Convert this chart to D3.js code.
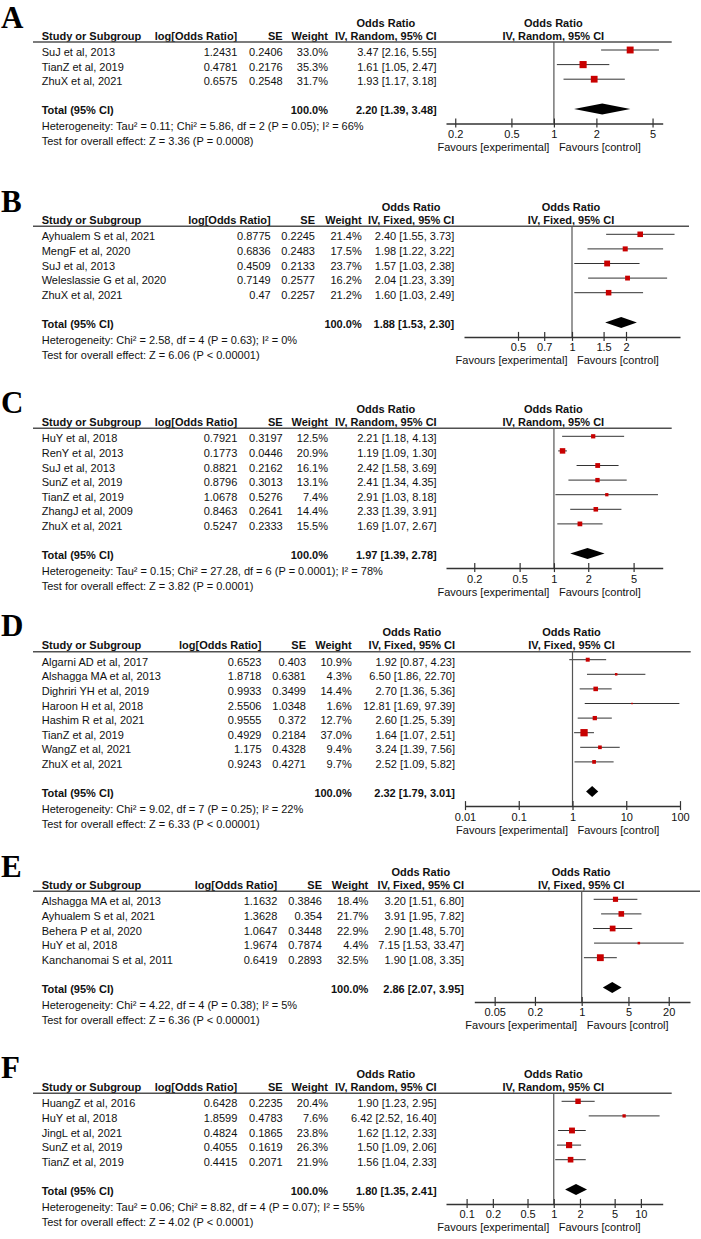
<!DOCTYPE html>
<html><head><meta charset="utf-8">
<script src="https://cdn.jsdelivr.net/npm/d3@7"></script>
<style>
html,body{margin:0;padding:0;background:#fff;}
svg{display:block;}
text{font-family:"Liberation Sans",Arial,sans-serif;font-size:11px;fill:#111;}
text.b{font-weight:bold;}
text.lbl{font-family:"Liberation Serif","Times New Roman",serif;font-size:31px;font-weight:bold;fill:#000;}
</style></head><body>
<svg id="c" width="701" height="1239"></svg>
<script>
// ---------- Panel A ----------
const studiesA = ["SuJ et al, 2013","TianZ et al, 2019","ZhuX et al, 2021"];
const logOrA = [1.2431,0.4781,0.6575];
const seA = [0.2406,0.2176,0.2548];
const weightA = [33.0,35.3,31.7];
const orA = [3.47,1.61,1.93];
const loA = [2.16,1.05,1.17];
const hiA = [5.55,2.47,3.18];
const totalA = [2.20,1.39,3.48];
const hetA = "Heterogeneity: Tau\u00B2 = 0.11; Chi\u00B2 = 5.86, df = 2 (P = 0.05); I\u00B2 = 66%";
const testA = "Test for overall effect: Z = 3.36 (P = 0.0008)";
const ticksA = [0.2,0.5,1,2,5];
const domainA = [0.172,5.9];
// ---------- Panel B ----------
const studiesB = ["Ayhualem S et al, 2021","MengF et al, 2020","SuJ et al, 2013","Weleslassie G et al, 2020","ZhuX et al, 2021"];
const logOrB = [0.8775,0.6836,0.4509,0.7149,0.47];
const seB = [0.2245,0.2483,0.2133,0.2577,0.2257];
const weightB = [21.4,17.5,23.7,16.2,21.2];
const orB = [2.40,1.98,1.57,2.04,1.60];
const loB = [1.55,1.22,1.03,1.23,1.03];
const hiB = [3.73,3.22,2.38,3.39,2.49];
const totalB = [1.88,1.53,2.30];
const hetB = "Heterogeneity: Chi\u00B2 = 2.58, df = 4 (P = 0.63); I\u00B2 = 0%";
const testB = "Test for overall effect: Z = 6.06 (P < 0.00001)";
const ticksB = [0.5,0.7,1,1.5,2];
const domainB = [0.25,4];
// ---------- Panel C ----------
const studiesC = ["HuY et al, 2018","RenY et al, 2013","SuJ et al, 2013","SunZ et al, 2019","TianZ et al, 2019","ZhangJ et al, 2009","ZhuX et al, 2021"];
const logOrC = [0.7921,0.1773,0.8821,0.8796,1.0678,0.8463,0.5247];
const seC = [0.3197,0.0446,0.2162,0.3013,0.5276,0.2641,0.2333];
const weightC = [12.5,20.9,16.1,13.1,7.4,14.4,15.5];
const orC = [2.21,1.19,2.42,2.41,2.91,2.33,1.69];
const loC = [1.18,1.09,1.58,1.34,1.03,1.39,1.07];
const hiC = [4.13,1.30,3.69,4.35,8.18,3.91,2.67];
const totalC = [1.97,1.39,2.78];
const hetC = "Heterogeneity: Tau\u00B2 = 0.15; Chi\u00B2 = 27.28, df = 6 (P = 0.0001); I\u00B2 = 78%";
const testC = "Test for overall effect: Z = 3.82 (P = 0.0001)";
const ticksC = [0.2,0.5,1,2,5];
const domainC = [0.113,9];
// ---------- Panel D ----------
const studiesD = ["Algarni AD et al, 2017","Alshagga MA et al, 2013","Dighriri YH et al, 2019","Haroon H et al, 2018","Hashim R et al, 2021","TianZ et al, 2019","WangZ et al, 2021","ZhuX et al, 2021"];
const logOrD = [0.6523,1.8718,0.9933,2.5506,0.9555,0.4929,1.175,0.9243];
const seD = [0.403,0.6381,0.3499,1.0348,0.372,0.2184,0.4328,0.4271];
const weightD = [10.9,4.3,14.4,1.6,12.7,37.0,9.4,9.7];
const orD = [1.92,6.50,2.70,12.81,2.60,1.64,3.24,2.52];
const loD = [0.87,1.86,1.36,1.69,1.25,1.07,1.39,1.09];
const hiD = [4.23,22.70,5.36,97.39,5.39,2.51,7.56,5.82];
const totalD = [2.32,1.79,3.01];
const hetD = "Heterogeneity: Chi\u00B2 = 9.02, df = 7 (P = 0.25); I\u00B2 = 22%";
const testD = "Test for overall effect: Z = 6.33 (P < 0.00001)";
const ticksD = [0.01,0.1,1,10,100];
const domainD = [0.01,100];
// ---------- Panel E ----------
const studiesE = ["Alshagga MA et al, 2013","Ayhualem S et al, 2021","Behera P et al, 2020","HuY et al, 2018","Kanchanomai S et al, 2011"];
const logOrE = [1.1632,1.3628,1.0647,1.9674,0.6419];
const seE = [0.3846,0.354,0.3448,0.7874,0.2893];
const weightE = [18.4,21.7,22.9,4.4,32.5];
const orE = [3.20,3.91,2.90,7.15,1.90];
const loE = [1.51,1.95,1.48,1.53,1.08];
const hiE = [6.80,7.82,5.70,33.47,3.35];
const totalE = [2.86,2.07,3.95];
const hetE = "Heterogeneity: Chi\u00B2 = 4.22, df = 4 (P = 0.38); I\u00B2 = 5%";
const testE = "Test for overall effect: Z = 6.36 (P < 0.00001)";
const ticksE = [0.05,0.2,1,5,20];
const domainE = [0.0248,41.6];
// ---------- Panel F ----------
const studiesF = ["HuangZ et al, 2016","HuY et al, 2018","JingL et al, 2021","SunZ et al, 2019","TianZ et al, 2019"];
const logOrF = [0.6428,1.8599,0.4824,0.4055,0.4415];
const seF = [0.2235,0.4783,0.1865,0.1619,0.2071];
const weightF = [20.4,7.6,23.8,26.3,21.9];
const orF = [1.90,6.42,1.62,1.50,1.56];
const loF = [1.23,2.52,1.12,1.09,1.04];
const hiF = [2.95,16.40,2.33,2.06,2.33];
const totalF = [1.80,1.35,2.41];
const hetF = "Heterogeneity: Tau\u00B2 = 0.06; Chi\u00B2 = 8.82, df = 4 (P = 0.07); I\u00B2 = 55%";
const testF = "Test for overall effect: Z = 4.02 (P < 0.0001)";
const ticksF = [0.1,0.2,0.5,1,2,5,10];
const domainF = [0.058,17.8];

const panelKeys = ["A","B","C","D","E","F"];
const methods = ["Random","Fixed","Random","Fixed","Fixed","Random"];

const panels = [
  {studies:studiesA,logOr:logOrA,se:seA,weight:weightA,or:orA,lo:loA,hi:hiA,total:totalA,het:hetA,test:testA,ticks:ticksA,domain:domainA},
  {studies:studiesB,logOr:logOrB,se:seB,weight:weightB,or:orB,lo:loB,hi:hiB,total:totalB,het:hetB,test:testB,ticks:ticksB,domain:domainB},
  {studies:studiesC,logOr:logOrC,se:seC,weight:weightC,or:orC,lo:loC,hi:hiC,total:totalC,het:hetC,test:testC,ticks:ticksC,domain:domainC},
  {studies:studiesD,logOr:logOrD,se:seD,weight:weightD,or:orD,lo:loD,hi:hiD,total:totalD,het:hetD,test:testD,ticks:ticksD,domain:domainD},
  {studies:studiesE,logOr:logOrE,se:seE,weight:weightE,or:orE,lo:loE,hi:hiE,total:totalE,het:hetE,test:testE,ticks:ticksE,domain:domainE},
  {studies:studiesF,logOr:logOrF,se:seF,weight:weightF,or:orF,lo:loF,hi:hiF,total:totalF,het:hetF,test:testF,ticks:ticksF,domain:domainF}
];

// ---------- layout (positions only) ----------
const layout = [
  {L:42,    labelY:28,   cLog:237.3, cSE:282.7, cW:328,   cCI:436.7, x0:446,   x1:662.7, lineEnd:671.7},
  {L:226.3, labelY:211.7,cLog:270.7, cSE:315,   cW:361.7, cCI:454.3, x0:464,   x1:680,   lineEnd:689},
  {L:428.3, labelY:413,  cLog:237.3, cSE:282.7, cW:328,   cCI:436.7, x0:446,   x1:662.7, lineEnd:671.7},
  {L:651.7, labelY:636,  cLog:261.5, cSE:306,   cW:351.7, cCI:455,   x0:465,   x1:680,   lineEnd:690.7},
  {L:891.3, labelY:877,  cLog:277.3, cSE:322,   cW:368.3, cCI:464,   x0:474.3, x1:690,   lineEnd:700},
  {L:1093.3,labelY:1078, cLog:237.3, cSE:282.7, cW:328,   cCI:436.7, x0:446,   x1:662.7, lineEnd:671.7}
];

const svg = d3.select("#c");
const side = d3.scaleSqrt().domain([0,100]).range([0,12]);
const f2 = d3.format(".2f"), f1 = d3.format(".1f");
const xStudy = 41.7;

panels.forEach((p,k)=>{
  const lay = layout[k];
  const g = svg.append("g");
  const x = d3.scaleLog().domain(p.domain).range([lay.x0, lay.x1]);
  const n = p.studies.length;
  const rowY = i => lay.L + 14 + 14.6*i;
  const totY = rowY(n+1);
  const axY = totY + 9;
  const xc = (lay.x0 + lay.x1)/2 - 1;
  const ciLabel = "IV, " + methods[k] + ", 95% CI";

  g.append("text").attr("class","lbl").attr("x",1).attr("y",lay.labelY).text(panelKeys[k]);

  // header
  const hy = lay.L - 2.5, hy2 = lay.L - 15.5;
  g.append("text").attr("class","b").attr("x",xStudy).attr("y",hy).text("Study or Subgroup");
  g.append("text").attr("class","b").attr("x",lay.cLog).attr("y",hy).attr("text-anchor","end").text("log[Odds Ratio]");
  g.append("text").attr("class","b").attr("x",lay.cSE).attr("y",hy).attr("text-anchor","end").text("SE");
  g.append("text").attr("class","b").attr("x",lay.cW).attr("y",hy).attr("text-anchor","end").text("Weight");
  const ciH = g.append("text").attr("class","b").attr("x",lay.cCI).attr("y",hy).attr("text-anchor","end").text(ciLabel);
  const wCI = ciH.node().getComputedTextLength();
  g.append("text").attr("class","b").attr("x",lay.cCI - wCI/2).attr("y",hy2).attr("text-anchor","middle").text("Odds Ratio");
  g.append("text").attr("class","b").attr("x",xc).attr("y",hy).attr("text-anchor","middle").text(ciLabel);
  g.append("text").attr("class","b").attr("x",xc).attr("y",hy2).attr("text-anchor","middle").text("Odds Ratio");

  g.append("line").attr("x1",33).attr("x2",lay.lineEnd).attr("y1",lay.L).attr("y2",lay.L)
    .attr("stroke","#505050").attr("stroke-width",1.6);

  // rows text
  const rows = g.selectAll("g.row").data(p.studies).join("g").attr("class","row");
  rows.append("text").attr("x",xStudy).attr("y",(d,i)=>rowY(i)).text(d=>d);
  rows.append("text").attr("x",lay.cLog).attr("y",(d,i)=>rowY(i)).attr("text-anchor","end").text((d,i)=>String(p.logOr[i]));
  rows.append("text").attr("x",lay.cSE).attr("y",(d,i)=>rowY(i)).attr("text-anchor","end").text((d,i)=>String(p.se[i]));
  rows.append("text").attr("x",lay.cW).attr("y",(d,i)=>rowY(i)).attr("text-anchor","end").text((d,i)=>f1(p.weight[i])+"%");
  rows.append("text").attr("x",lay.cCI).attr("y",(d,i)=>rowY(i)).attr("text-anchor","end")
    .text((d,i)=>f2(p.or[i])+" ["+f2(p.lo[i])+", "+f2(p.hi[i])+"]");

  // total
  g.append("text").attr("class","b").attr("x",xStudy).attr("y",totY).text("Total (95% CI)");
  g.append("text").attr("class","b").attr("x",lay.cW).attr("y",totY).attr("text-anchor","end").text("100.0%");
  g.append("text").attr("class","b").attr("x",lay.cCI).attr("y",totY).attr("text-anchor","end")
    .text(f2(p.total[0])+" ["+f2(p.total[1])+", "+f2(p.total[2])+"]");
  g.append("text").attr("x",xStudy).attr("y",totY+16).text(p.het);
  g.append("text").attr("x",xStudy).attr("y",totY+31).text(p.test);

  // no-effect line
  g.append("line").attr("x1",x(1)).attr("x2",x(1)).attr("y1",lay.L).attr("y2",axY)
    .attr("stroke","#555").attr("stroke-width",1.2);

  // CI lines
  rows.append("line").attr("x1",(d,i)=>x(p.lo[i])).attr("x2",(d,i)=>x(p.hi[i]))
    .attr("y1",(d,i)=>rowY(i)-6).attr("y2",(d,i)=>rowY(i)-6)
    .attr("stroke","#333").attr("stroke-width",1);
  rows.append("rect")
    .attr("x",(d,i)=>x(p.or[i]) - side(p.weight[i])/2)
    .attr("y",(d,i)=>rowY(i)-6 - side(p.weight[i])/2)
    .attr("width",(d,i)=>side(p.weight[i]))
    .attr("height",(d,i)=>side(p.weight[i]))
    .attr("fill","#c80000");

  // diamond
  const cy = totY - 5.5;
  g.append("path")
    .attr("d", d3.line()([[x(p.total[1]),cy],[x(p.total[0]),cy-5.5],[x(p.total[2]),cy],[x(p.total[0]),cy+5.5]]) + "Z")
    .attr("fill","#000");

  // axis
  const ax = g.append("g").attr("transform",`translate(0,${axY})`).style("color","#333")
    .call(d3.axisBottom(x).tickValues(p.ticks).tickFormat(d=>String(d)).tickSizeOuter(0).tickSizeInner(4));
  ax.select(".domain").attr("stroke-width",1.5);
  ax.selectAll(".tick line").attr("y1",-5).attr("y2",4).attr("stroke-width",1.2);
  ax.selectAll(".tick text").attr("y",14.5).attr("dy",null);

  g.append("text").attr("x",x(1)-4.5).attr("y",axY+27.5).attr("text-anchor","end").text("Favours [experimental]");
  g.append("text").attr("x",x(1)+5).attr("y",axY+27.5).text("Favours [control]");
});
</script>
</body></html>
